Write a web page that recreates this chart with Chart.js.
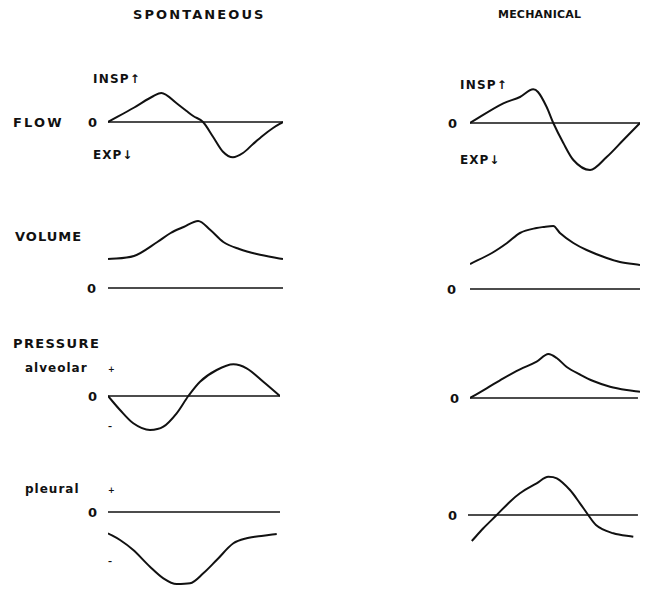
<!DOCTYPE html>
<html>
<head>
<meta charset="utf-8">
<title>Spontaneous vs mechanical ventilation</title>
<script src="https://cdn.jsdelivr.net/npm/chart.js@4/dist/chart.umd.min.js"></script>
<style>
    body { margin: 0; background: #fff; }
    #page {
        position: relative; width: 646px; height: 589px; overflow: hidden;
        font-family: "DejaVu Sans", "Liberation Sans", Arial, sans-serif; font-weight: bold; color: #111;
    }
    .lbl { position: absolute; white-space: nowrap; line-height: 1; transform: translateY(-50%); }
    canvas { position: absolute; }
</style>
</head>
<body>
<div id="page"></div>
<script>
// Titles and row labels
const columnTitles = ['SPONTANEOUS', 'MECHANICAL'];
const rowLabels = ['FLOW', 'VOLUME', 'PRESSURE'];
const pressureLabels = ['alveolar', 'pleural'];
const zeroTick = '0';

// Time axis: percent of one breath, arbitrary amplitude units
const spontFlowT = [0, 15, 26, 30.5, 39.2, 44.9, 48.7, 54.3, 60, 65.7, 71.4, 77.1, 82.9, 88.6, 94.3, 100];
const spontFlow  = [0, 14.5, 26, 29, 18.7, 11, 6, 0, -14.7, -29.7, -35.3, -31, -22, -13.5, -6, 0];

const spontVolT = [0, 14.8, 28.2, 35.8, 43.2, 51.5, 58.5, 65.9, 75, 85, 100];
const spontVol  = [29, 32, 46, 55, 61, 67, 58, 46, 39, 34, 29];

const spontAlvT = [0, 7, 14.7, 24.4, 32.2, 39.9, 46.7, 53.5, 63.2, 72.9, 80.6, 90.3, 100];
const spontAlv  = [0, -14, -27.3, -34, -30.7, -17.3, 0, 14.3, 26, 31.7, 27.7, 14.3, 0];

const spontPleuT = [0, 7, 14.7, 24.4, 32.2, 39.9, 47.7, 55.4, 63.2, 72.9, 80.6, 90.3, 98.1];
const spontPleu  = [-21.3, -28, -38, -54.7, -66.3, -72, -71.3, -61.3, -48, -31.3, -26.3, -23.7, -22];

const mechFlowT = [0, 19.6, 29.4, 37.2, 40, 45.1, 49, 54.9, 60.8, 70.6, 80.4, 90.2, 100];
const mechFlow  = [0, 19.7, 26, 33.7, 31, 16, 0, -20, -37, -47, -34, -17, 0];

const mechVolT = [0, 12.9, 21.8, 29.4, 39.2, 43.1, 49, 52.9, 60.8, 68.6, 80.4, 88.2, 100];
const mechVol  = [25, 36, 46, 56, 61, 62, 63, 56, 46, 39, 31, 27, 24];

const mechAlvT = [0, 9.8, 19.6, 29.4, 39.2, 46.1, 51, 56.9, 64.7, 72.5, 82.4, 92.2, 100];
const mechAlv  = [0, 9.7, 19.7, 28.7, 36.3, 44, 40, 31, 23.5, 17, 11.3, 8, 6.3];

const mechPleuT = [2.2, 8.9, 16.7, 24.4, 30.2, 39.9, 46.7, 51.6, 59.3, 65.1, 69.9, 74.4, 84.5, 96.1];
const mechPleu  = [-26, -13.3, 0, 13.3, 21.7, 31.7, 38.3, 36.7, 25, 11.7, 0, -10, -18.3, -21.7];

// Baselines (zero level)
const zeroT = [0, 100];
const zeroT2 = [0, 98.8];
const zeroV = [0, 0];

const PAD = 4;
const INK = '#111';

document.addEventListener('DOMContentLoaded', function() {
    drawPage();
});

function drawPage() {
    const page = document.getElementById('page');

    // Column titles
    addLabel(page, columnTitles[0], 133, 14, 13, 2.1);
    addLabel(page, columnTitles[1], 498, 14, 11, 0.2);

    // Row labels
    addLabel(page, rowLabels[0], 13, 122, 13, 2.2);
    addLabel(page, rowLabels[1], 15, 236, 13, 1);
    addLabel(page, rowLabels[2], 13, 343, 13, 1.4);
    addLabel(page, pressureLabels[0], 25, 368, 12, 1);
    addLabel(page, pressureLabels[1], 25, 489, 12, 1);

    // INSP / EXP marks
    addLabel(page, 'INSP\u2191', 93, 79, 12, 1.2);
    addLabel(page, 'EXP\u2193', 93, 155, 12, 1);
    addLabel(page, 'INSP\u2191', 460, 85, 12, 1.2);
    addLabel(page, 'EXP\u2193', 460, 160, 12, 1);

    // small + / - marks on pressure panels
    addLabel(page, '+', 108, 370, 8, 0);
    addLabel(page, '\u2013', 108, 427, 8, 0);
    addLabel(page, '+', 108, 491, 8, 0);
    addLabel(page, '\u2013', 108, 562, 8, 0);

    const panels = [
        { left: 108, width: 175, zero: 122, min: -40, max: 37, t: spontFlowT, v: spontFlow, zt: zeroT, zx: 88 },
        { left: 108, width: 175, zero: 288, min: -3,  max: 70, t: spontVolT,  v: spontVol,  zt: zeroT, zx: 87 },
        { left: 108, width: 172, zero: 396, min: -37, max: 35, t: spontAlvT,  v: spontAlv,  zt: zeroT, zx: 88 },
        { left: 108, width: 172, zero: 512, min: -75, max: 3,  t: spontPleuT, v: spontPleu, zt: zeroT, zx: 88 },
        { left: 470, width: 170, zero: 123, min: -50, max: 37, t: mechFlowT,  v: mechFlow,  zt: zeroT, zx: 448 },
        { left: 470, width: 170, zero: 289, min: -3,  max: 66, t: mechVolT,   v: mechVol,   zt: zeroT, zx: 447 },
        { left: 470, width: 170, zero: 398, min: -3,  max: 47, t: mechAlvT,   v: mechAlv,   zt: zeroT2, zx: 450 },
        { left: 468, width: 172, zero: 515, min: -28, max: 41, t: mechPleuT,  v: mechPleu,  zt: zeroT2, zx: 448 }
    ];

    panels.forEach(p => createPanel(page, p));
}

// Label helper: x = left edge, y = vertical centre
function addLabel(parent, text, x, y, size, spacing) {
    const el = document.createElement('div');
    el.className = 'lbl';
    el.textContent = text;
    el.style.left = x + 'px';
    el.style.top = y + 'px';
    el.style.fontSize = size + 'px';
    el.style.letterSpacing = spacing + 'px';
    parent.appendChild(el);
    return el;
}

function toPoints(t, v) {
    return t.map((x, i) => ({ x: x, y: v[i] }));
}

// One small line chart per trace
function createPanel(page, p) {
    const canvas = document.createElement('canvas');
    const w = p.width + 2 * PAD;
    const h = (p.max - p.min) + 2 * PAD;
    const top = p.zero - p.max - PAD;
    canvas.width = w;
    canvas.height = h;
    canvas.style.width = w + 'px';
    canvas.style.height = h + 'px';
    canvas.style.left = (p.left - PAD) + 'px';
    canvas.style.top = top + 'px';
    page.appendChild(canvas);

    const chart = new Chart(canvas, {
        type: 'line',
        data: {
            datasets: [
                {
                    data: toPoints(p.zt, zeroV),
                    borderColor: INK,
                    borderWidth: 1.6,
                    pointRadius: 0
                },
                {
                    data: toPoints(p.t, p.v),
                    borderColor: INK,
                    borderWidth: 2,
                    pointRadius: 0,
                    cubicInterpolationMode: 'monotone'
                }
            ]
        },
        options: {
            responsive: false,
            animation: false,
            devicePixelRatio: 1,
            layout: { padding: PAD },
            plugins: { legend: { display: false }, tooltip: { enabled: false } },
            scales: {
                x: { type: 'linear', min: 0, max: 100, display: false },
                y: { min: p.min, max: p.max, display: false }
            }
        }
    });

    // "0" tick placed at the zero level of this chart's y scale
    const zeroPx = top + chart.scales.y.getPixelForValue(0);
    addLabel(page, zeroTick, p.zx, zeroPx, 13, 0);
}
</script>
</body>
</html>
